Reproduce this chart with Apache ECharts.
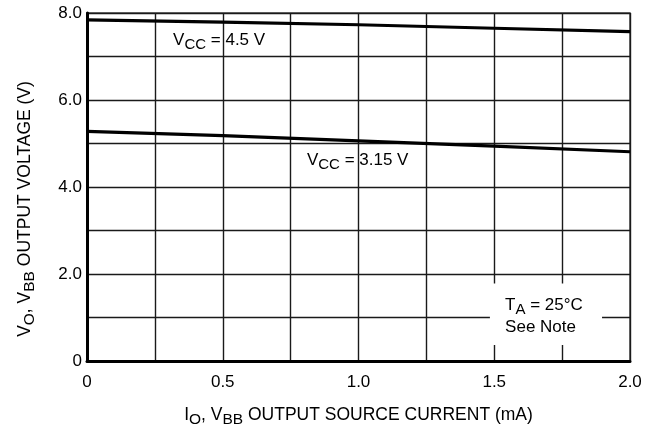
<!DOCTYPE html>
<html>
<head>
<meta charset="utf-8">
<script src="https://cdn.jsdelivr.net/npm/echarts@6/dist/echarts.min.js"></script>
<style>
  html, body { margin: 0; padding: 0; background: #fff; }
  #main { width: 652px; height: 433px; }
</style>
</head>
<body>
<div id="main"></div>
<script>
// output source current (mA)
const current = [0, 0.5, 1.0, 1.5, 2.0]
// output voltage (V) for each supply
const vcc45 = [7.84, 7.79, 7.73, 7.65, 7.57]
const vcc315 = [5.28, 5.18, 5.06, 4.94, 4.81]
const xTickLabels = ['0', '0.5', '1.0', '1.5', '2.0']
const yTickLabels = ['0', '2.0', '4.0', '6.0', '8.0']

const FONT = 'Liberation Sans, Arial, sans-serif'
const rich = {
  m: { fontFamily: FONT, fontSize: 17.5, color: '#000', lineHeight: 20 },
  s: { fontFamily: FONT, fontSize: 15.5, color: '#000', lineHeight: 20, padding: [10, 0, 0, 0] }
}
const noteRich = {
  m: { fontFamily: FONT, fontSize: 17, color: '#000', lineHeight: 20 },
  s: { fontFamily: FONT, fontSize: 15, color: '#000', lineHeight: 20, padding: [9, 0, 0, 0] }
}

const myChart = echarts.init(document.getElementById('main'))

const option = {
  animation: false,
  backgroundColor: '#fff',
  grid: {
    left: 87,
    right: 22,
    top: 13,
    bottom: 70,
    show: true,
    borderColor: '#444',
    borderWidth: 1.5
  },
  xAxis: {
    type: 'value',
    min: 0,
    max: 2,
    interval: 0.5,
    name: '{m|I}{s|O}{m|, V}{s|BB}{m| OUTPUT SOURCE CURRENT (mA)}',
    nameLocation: 'middle',
    nameGap: 44,
    nameTextStyle: { rich: rich },
    axisLine: { show: true, lineStyle: { color: '#000', width: 3 } },
    axisTick: { show: false },
    axisLabel: {
      margin: 13,
      color: '#000',
      fontFamily: FONT,
      fontSize: 17,
      formatter: v => xTickLabels[Math.round(v / 0.5)]
    },
    splitLine: { show: true, lineStyle: { color: '#1a1a1a', width: 1.4 } },
    minorTick: { show: false, splitNumber: 2 },
    minorSplitLine: { show: true, lineStyle: { color: '#1a1a1a', width: 1.4 } }
  },
  yAxis: {
    type: 'value',
    min: 0,
    max: 8,
    interval: 2,
    name: '{m|V}{s|O}{m|, V}{s|BB}{m| OUTPUT VOLTAGE (V)}',
    nameLocation: 'middle',
    nameRotate: 90,
    nameGap: 52,
    nameTextStyle: { rich: rich, padding: [0, 44, 0, 0] },
    axisLine: { show: true, lineStyle: { color: '#000', width: 3 } },
    axisTick: { show: false },
    axisLabel: {
      margin: 5,
      color: '#000',
      fontFamily: FONT,
      fontSize: 17,
      formatter: v => yTickLabels[Math.round(v / 2)]
    },
    splitLine: { show: true, lineStyle: { color: '#1a1a1a', width: 1.4 } },
    minorTick: { show: false, splitNumber: 2 },
    minorSplitLine: { show: true, lineStyle: { color: '#1a1a1a', width: 1.4 } }
  },
  series: [
    {
      name: 'VCC = 4.5 V',
      type: 'line',
      data: current.map((x, i) => [x, vcc45[i]]),
      showSymbol: false,
      lineStyle: { color: '#000', width: 3.2 },
      z: 5
    },
    {
      name: 'VCC = 3.15 V',
      type: 'line',
      data: current.map((x, i) => [x, vcc315[i]]),
      showSymbol: false,
      lineStyle: { color: '#000', width: 3.2 },
      z: 5
    }
  ]
}
myChart.setOption(option)

// annotations placed in data coordinates
const notes = [
  { x: 0.317, y: 7.38, text: '{m|V}{s|CC}{m| = 4.5 V}' },
  { x: 0.81, y: 4.62, text: '{m|V}{s|CC}{m| = 3.15 V}' }
]
const pt = (x, y) => myChart.convertToPixel({ gridIndex: 0 }, [x, y])
const boxA = pt(1.484, 1.78)
const boxB = pt(1.897, 0.366)
const graphics = notes.map(n => {
  const p = pt(n.x, n.y)
  return {
    type: 'text',
    x: p[0],
    y: p[1],
    z: 100,
    style: { text: n.text, rich: noteRich, verticalAlign: 'middle', align: 'left' }
  }
})
graphics.push({
  type: 'rect',
  z: 99,
  shape: { x: boxA[0], y: boxA[1], width: boxB[0] - boxA[0], height: boxB[1] - boxA[1] },
  style: { fill: '#fff' }
})
const t1 = pt(1.54, 1.28)
const t2 = pt(1.54, 0.78)
graphics.push({
  type: 'text', x: t1[0], y: t1[1], z: 100,
  style: { text: '{m|T}{s|A}{m| = 25°C}', rich: noteRich, verticalAlign: 'middle' }
})
graphics.push({
  type: 'text', x: t2[0], y: t2[1], z: 100,
  style: { text: 'See Note', font: '17px ' + FONT, fill: '#000', verticalAlign: 'middle' }
})
myChart.setOption({ graphic: graphics })
</script>
</body>
</html>
